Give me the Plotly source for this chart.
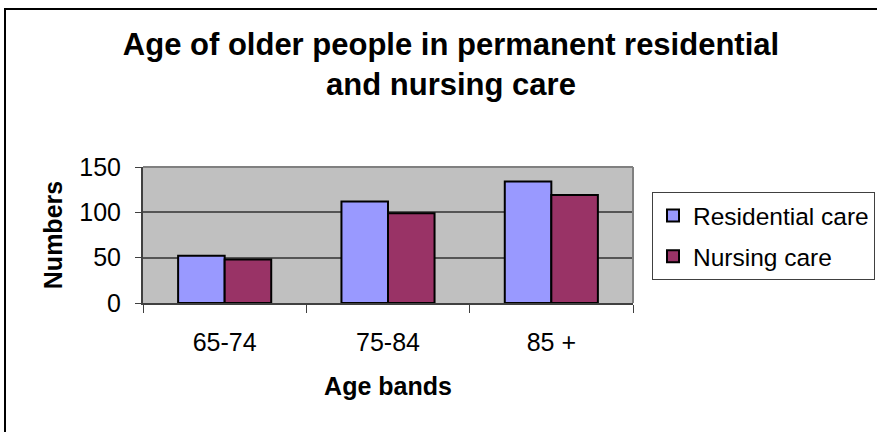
import plotly.graph_objects as go

# Age bands and counts of older people in permanent care
categories = ["65-74", "75-84", "85 +"]
residential = [52, 112, 134]
nursing = [48, 99, 119]

W, H = 877, 432
L, R, T, B = 143, 244, 167, 129
pw = W - L - R
ph = H - T - B


def px_x(x):
    return (x - L) / pw


def px_y(y):
    return (H - B - y) / ph


FONT = "Liberation Sans, Arial, sans-serif"

fig = go.Figure()
fig.add_trace(go.Bar(
    name="Residential care", x=categories, y=residential,
    marker=dict(color="#9999FF", line=dict(color="black", width=2)),
    legendgroup="r",
))
fig.add_trace(go.Bar(
    name="Nursing care", x=categories, y=nursing,
    marker=dict(color="#993366", line=dict(color="black", width=2)),
    legendgroup="n",
))

fig.update_layout(
    width=W, height=H,
    margin=dict(l=L, r=R, t=T, b=B, pad=0, autoexpand=False),
    paper_bgcolor="white",
    plot_bgcolor="#C0C0C0",
    barmode="group",
    bargap=0.43,
    bargroupgap=0,
    font=dict(family=FONT, color="black", size=24),
    title=dict(
        text="<b>Age of older people in permanent residential<br>and nursing care</b>",
        font=dict(family=FONT, size=31, color="black"),
        x=451 / W, xanchor="center", xref="container",
        y=1 - 55 / H, yanchor="top", yref="container",
    ),
    xaxis=dict(
        showline=True, linecolor="#404040", linewidth=2,
        ticks="outside", tickson="boundaries", ticklen=8,
        tickcolor="#404040", tickwidth=1,
        showgrid=False,
        tickfont=dict(size=25),
        ticklabelstandoff=16,
        title=dict(text="<b>Age bands</b>", font=dict(size=25), standoff=22),
    ),
    yaxis=dict(
        range=[0, 150], dtick=50,
        showline=True, linecolor="#404040", linewidth=2,
        ticks="outside", ticklen=6, tickcolor="#404040", tickwidth=1,
        showgrid=True, gridcolor="#555555", gridwidth=2,
        zeroline=False,
        tickfont=dict(size=25),
        ticklabelstandoff=9,
        title=dict(text="<b>Numbers</b>", font=dict(size=25), standoff=10),
    ),
    legend=dict(
        x=px_x(652), y=px_y(192), xref="paper", yref="paper",
        xanchor="left", yanchor="top",
        bgcolor="white", bordercolor="#404040", borderwidth=1,
        font=dict(size=24.5),
        tracegroupgap=6,
        traceorder="grouped",
    ),
    showlegend=True,
    shapes=[
        # plot area top and right edges
        dict(type="line", xref="paper", yref="paper", x0=0, x1=1, y0=1, y1=1,
             line=dict(color="#808080", width=2)),
        dict(type="line", xref="paper", yref="paper", x0=1, x1=1, y0=0, y1=1,
             line=dict(color="#808080", width=2)),
        # chart frame
        dict(type="rect", xref="paper", yref="paper",
             x0=px_x(5), x1=px_x(W + 20), y0=px_y(9), y1=px_y(H + 20),
             line=dict(color="black", width=2), fillcolor="rgba(0,0,0,0)"),
    ],
)

fig.write_html("out.html")
